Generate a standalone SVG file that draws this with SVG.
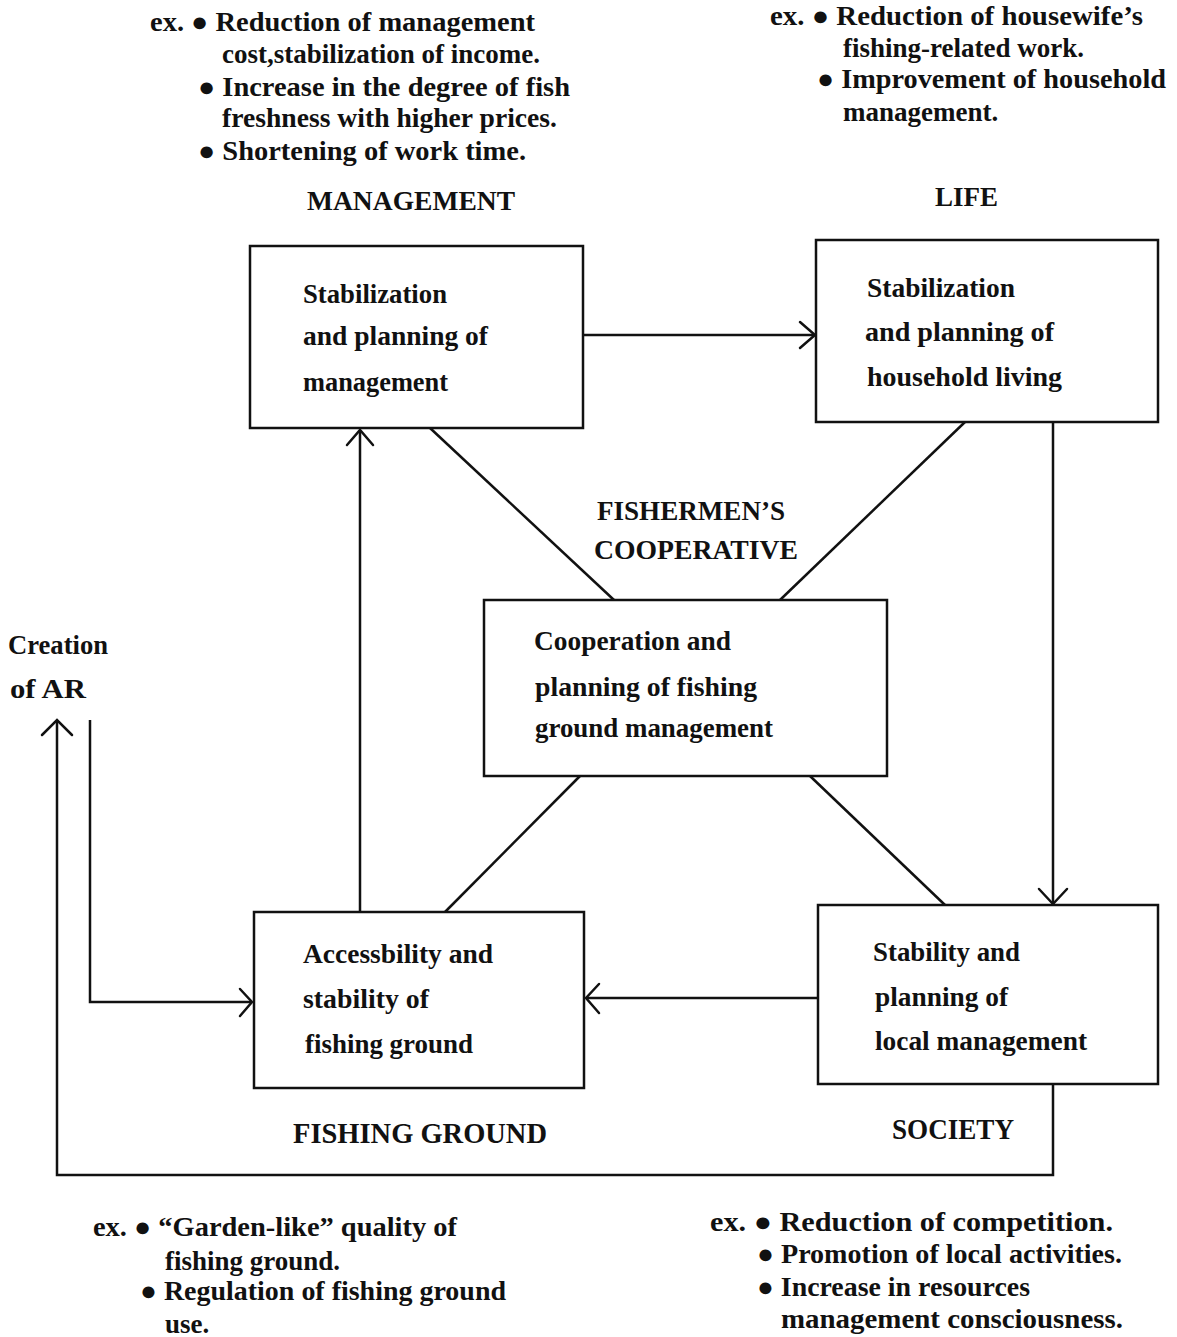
<svg xmlns="http://www.w3.org/2000/svg" width="1177" height="1337" viewBox="0 0 1177 1337">
<style>
text{font-family:"Liberation Serif","Times New Roman",serif;font-weight:bold;font-size:27px;fill:#111}
.lbl{font-size:30px}
.box{fill:#fff;stroke:#111;stroke-width:2.5}
.ln{fill:none;stroke:#111;stroke-width:2.5}
.ah{fill:none;stroke:#111;stroke-width:2.5;stroke-linecap:round}
</style>
<rect width="1177" height="1337" fill="#fff"/>
<g id="connectors">
<line class="ln" x1="430" y1="428" x2="614" y2="600"/>
<line class="ln" x1="965" y1="422" x2="780" y2="600"/>
<line class="ln" x1="580" y1="776" x2="445" y2="912"/>
<line class="ln" x1="810" y1="776" x2="945" y2="905"/>
<line class="ln" x1="583" y1="335" x2="815" y2="335"/>
<polyline class="ah" points="800,322 815,335 800,348"/>
<line class="ln" x1="360" y1="912" x2="360" y2="430"/>
<polyline class="ah" points="347,445 360,430 373,445"/>
<line class="ln" x1="1053" y1="422" x2="1053" y2="904"/>
<polyline class="ah" points="1039,889 1053,904 1067,889"/>
<line class="ln" x1="818" y1="998" x2="586" y2="998"/>
<polyline class="ah" points="599,984 586,998 599,1013"/>
<polyline class="ln" points="90,720 90,1002 252,1002"/>
<polyline class="ah" points="240,989 252,1002 240,1016"/>
<polyline class="ln" points="1053,1084 1053,1175 57,1175 57,721"/>
<polyline class="ah" points="42,735 57,720 72,735"/>
</g>
<g id="ex-management">
<text x="150" y="31" textLength="385" lengthAdjust="spacingAndGlyphs">ex. ● Reduction of management</text>
<text x="222" y="63">cost,stabilization of income.</text>
<text x="198" y="96" textLength="372" lengthAdjust="spacingAndGlyphs">● Increase in the degree of fish</text>
<text x="222" y="127" textLength="335" lengthAdjust="spacingAndGlyphs">freshness with higher prices.</text>
<text x="198" y="160" textLength="328" lengthAdjust="spacingAndGlyphs">● Shortening of work time.</text>
</g>
<g id="ex-life">
<text x="770" y="25" textLength="373" lengthAdjust="spacingAndGlyphs">ex. ● Reduction of housewife’s</text>
<text x="843" y="57">fishing-related work.</text>
<text x="817" y="88" textLength="349" lengthAdjust="spacingAndGlyphs">● Improvement of household</text>
<text x="843" y="121">management.</text>
</g>
<text x="307" y="210" textLength="208" lengthAdjust="spacingAndGlyphs">MANAGEMENT</text>
<text x="935" y="206" textLength="63" lengthAdjust="spacingAndGlyphs">LIFE</text>
<g id="node-management">
<rect class="box" x="250" y="246" width="333" height="182"/>
<text x="303" y="303" textLength="144" lengthAdjust="spacingAndGlyphs">Stabilization</text>
<text x="303" y="345" textLength="185" lengthAdjust="spacingAndGlyphs">and planning of</text>
<text x="303" y="391" textLength="145" lengthAdjust="spacingAndGlyphs">management</text>
</g>
<g id="node-life">
<rect class="box" x="816" y="240" width="342" height="182"/>
<text x="867" y="297" textLength="148" lengthAdjust="spacingAndGlyphs">Stabilization</text>
<text x="865" y="341" textLength="189" lengthAdjust="spacingAndGlyphs">and planning of</text>
<text x="867" y="386" textLength="195" lengthAdjust="spacingAndGlyphs">household living</text>
</g>
<text x="597" y="520" textLength="188" lengthAdjust="spacingAndGlyphs">FISHERMEN’S</text>
<text x="594" y="559" textLength="204" lengthAdjust="spacingAndGlyphs">COOPERATIVE</text>
<g id="node-cooperative">
<rect class="box" x="484" y="600" width="403" height="176"/>
<text x="534" y="650" textLength="197" lengthAdjust="spacingAndGlyphs">Cooperation and</text>
<text x="535" y="696" textLength="222" lengthAdjust="spacingAndGlyphs">planning of fishing</text>
<text x="535" y="737" textLength="238" lengthAdjust="spacingAndGlyphs">ground management</text>
</g>
<g id="creation-label">
<text x="8" y="654" textLength="100" lengthAdjust="spacingAndGlyphs">Creation</text>
<text x="10" y="698" textLength="76" lengthAdjust="spacingAndGlyphs">of AR</text>
</g>
<g id="node-fishing-ground">
<rect class="box" x="254" y="912" width="330" height="176"/>
<text x="303" y="963" textLength="190" lengthAdjust="spacingAndGlyphs">Accessbility and</text>
<text x="303" y="1008" textLength="126" lengthAdjust="spacingAndGlyphs">stability of</text>
<text x="305" y="1053" textLength="168" lengthAdjust="spacingAndGlyphs">fishing ground</text>
</g>
<g id="node-society">
<rect class="box" x="818" y="905" width="340" height="179"/>
<text x="873" y="961" textLength="147" lengthAdjust="spacingAndGlyphs">Stability and</text>
<text x="875" y="1006" textLength="133" lengthAdjust="spacingAndGlyphs">planning of</text>
<text x="875" y="1050" textLength="212" lengthAdjust="spacingAndGlyphs">local management</text>
</g>
<text class="lbl" x="293" y="1143" textLength="254" lengthAdjust="spacingAndGlyphs">FISHING GROUND</text>
<text class="lbl" x="892" y="1139" textLength="122" lengthAdjust="spacingAndGlyphs">SOCIETY</text>
<g id="ex-fishing-ground">
<text x="93" y="1236" textLength="364" lengthAdjust="spacingAndGlyphs">ex. ● “Garden-like” quality of</text>
<text x="165" y="1270">fishing ground.</text>
<text x="140" y="1300" textLength="366" lengthAdjust="spacingAndGlyphs">● Regulation of fishing ground</text>
<text x="165" y="1333">use.</text>
</g>
<g id="ex-society">
<text x="710" y="1231" textLength="403" lengthAdjust="spacingAndGlyphs">ex. ● Reduction of competition.</text>
<text x="757" y="1263" textLength="365" lengthAdjust="spacingAndGlyphs">● Promotion of local activities.</text>
<text x="757" y="1296" textLength="273" lengthAdjust="spacingAndGlyphs">● Increase in resources</text>
<text x="781" y="1328" textLength="342" lengthAdjust="spacingAndGlyphs">management consciousness.</text>
</g>
</svg>
